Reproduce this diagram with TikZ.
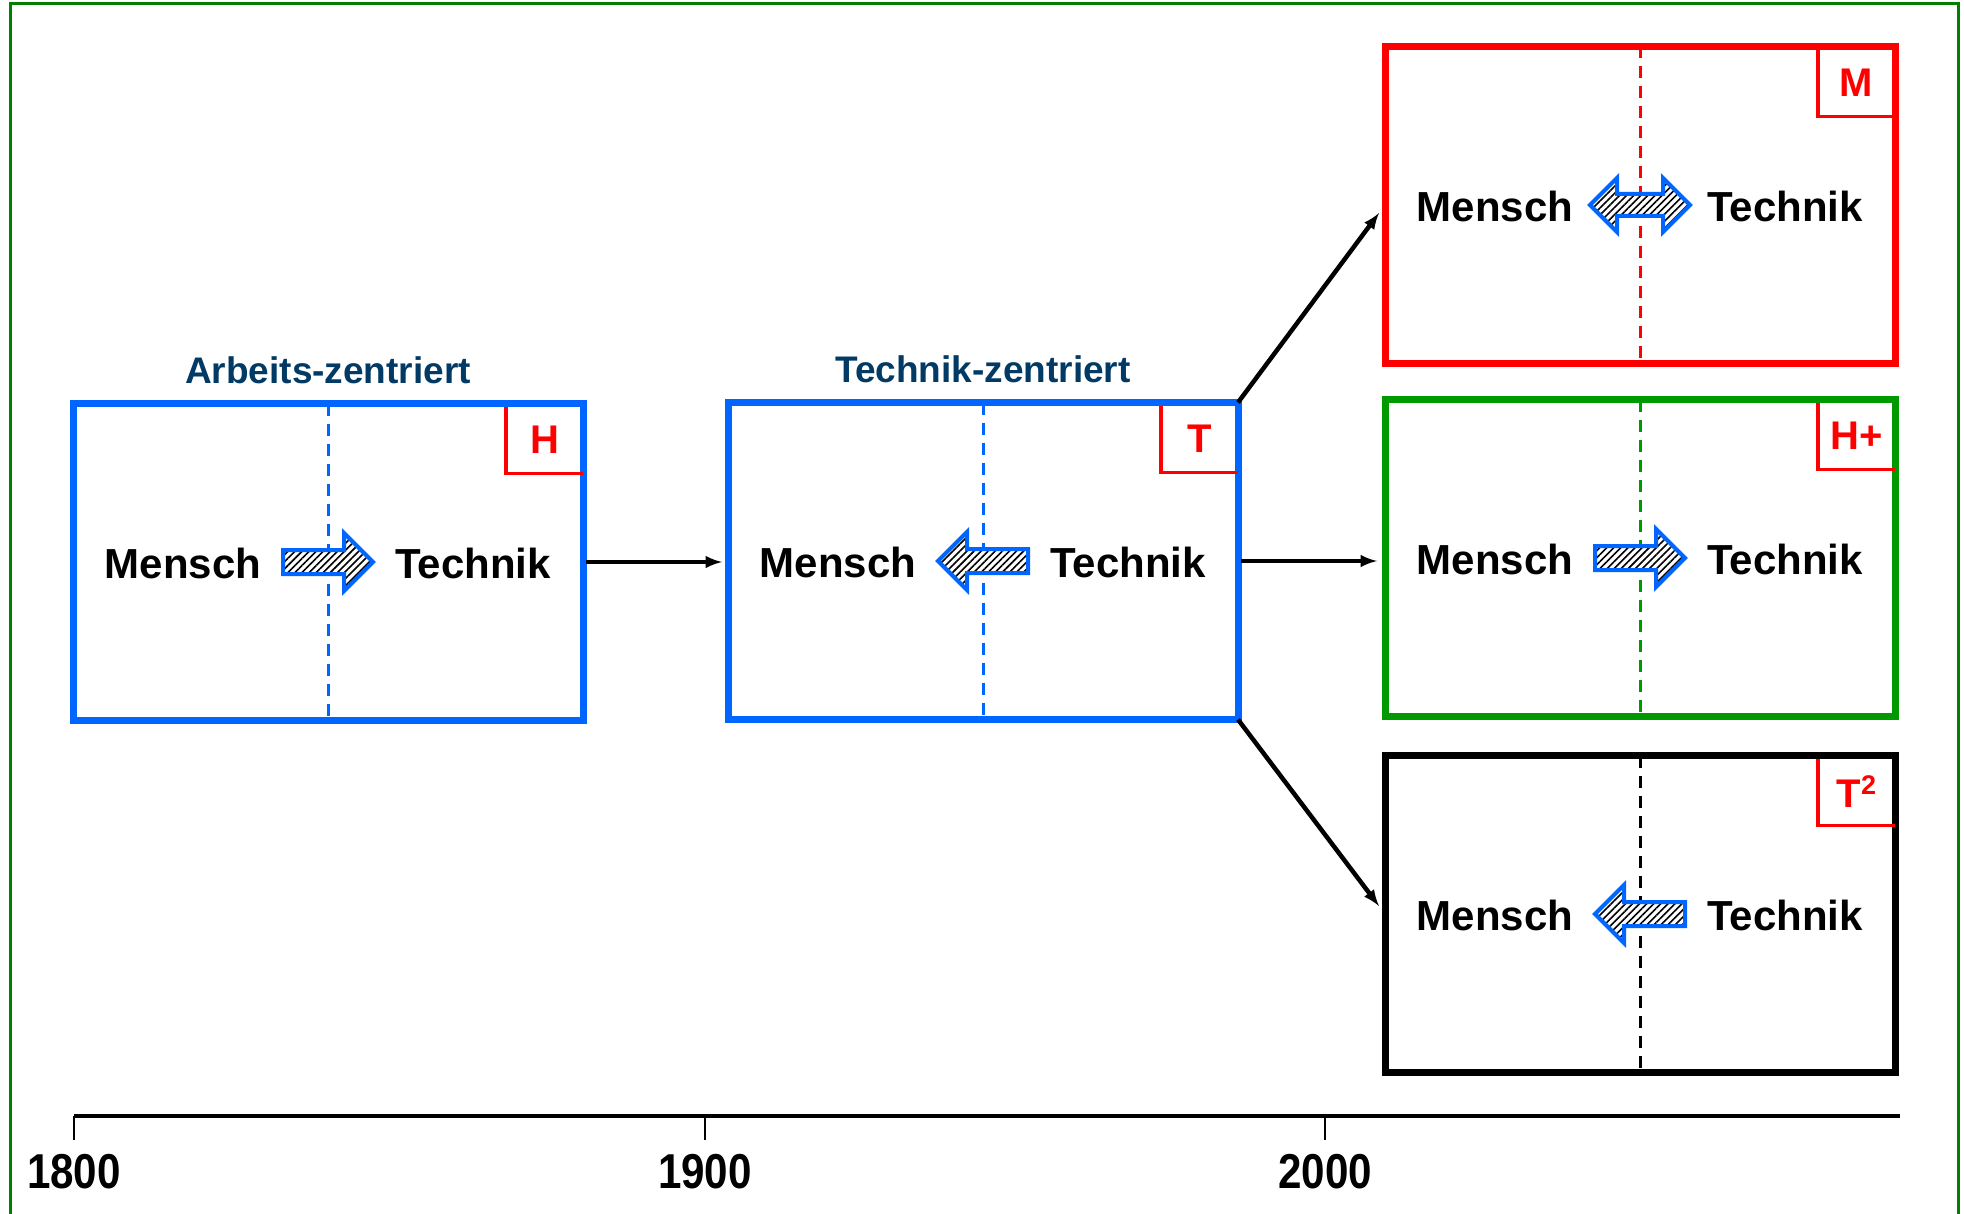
\documentclass[tikz,border=0pt]{standalone}
\usepackage{fontspec}
\setmainfont{Liberation Sans}
\usetikzlibrary{arrows,positioning,patterns.meta}
\definecolor{myblue}{RGB}{0,102,255}
\definecolor{mygreen}{RGB}{0,153,0}
\definecolor{framegreen}{RGB}{0,128,0}
\definecolor{titleblue}{RGB}{1,58,100}
\tikzstyle{epoch}=[draw,line width=7pt,minimum width=510pt,minimum height=317pt,inner sep=0pt,outer sep=0pt]
\tikzstyle{divline}=[line width=3pt,dash pattern=on 12pt off 8pt]
\tikzstyle{word}=[font=\fontsize{42}{48}\selectfont\bfseries,inner sep=0pt]
\tikzstyle{epochtitle}=[font=\fontsize{37}{44}\selectfont\bfseries,text=titleblue,inner sep=0pt]
\tikzstyle{cornertag}=[minimum width=77pt,minimum height=67pt,inner sep=0pt,outer sep=0pt,text=red,font=\fontsize{40}{46}\selectfont\bfseries]
\tikzstyle{cornerline}=[red,line width=3.5pt]
\tikzstyle{blockarrow}=[draw=myblue,line width=4pt,preaction={fill=white},pattern={Lines[angle=45,distance=5pt,line width=1.6pt]}]
\tikzstyle{myarrow}=[line width=4.5pt,>=latex,->]
\tikzstyle{yearlabel}=[font=\fontsize{49}{56}\selectfont\bfseries,xscale=0.86,inner sep=0pt]

\begin{document}
\begin{tikzpicture}[x=1pt,y=-1pt]
		\useasboundingbox (0,0) rectangle (1964,1214);
		\fill[white] (0,0) rectangle (1964,1214);
		\draw[framegreen,line width=3pt] (10,1230) -- (10,4) -- (1958,4) -- (1958,1230);

		% the five epochs
		\node[epoch,myblue] (h) at (328,562) {};
		\node[epoch,myblue] (t) at (983,561) {};
		\node[epoch,red] (m) at (1640,205) {};
		\node[epoch,mygreen] (hp) at (1640,558) {};
		\node[epoch,black] (tsq) at (1640,914) {};

		\foreach \b / \c in {h/myblue,t/myblue,m/red,hp/mygreen,tsq/black} {\draw[divline,\c] (\b.north) -- (\b.south);}

		\node[epochtitle,above=19pt of h] (harb) {Arbeits-zentriert};
		\node[epochtitle,above=19pt of t] (ttec) {Technik-zentriert};

		\foreach \b / \l in {h/H,t/T,m/M,hp/H+,tsq/T\raisebox{13pt}{\fontsize{27}{27}\selectfont 2}} {
			\node[cornertag,anchor=north east] (\b-tag) at ([yshift=-3pt]\b.north east) {\l};
			\draw[cornerline] (\b-tag.north west) -- (\b-tag.south west) -- (\b-tag.south east);
		}

		\foreach \b in {h,t,m,hp,tsq} {
			\node[word] (\b-mensch) at ([xshift=-145pt,yshift=-1pt]\b.center) {Mensch};
			\node[word] (\b-technik) at ([xshift=145pt,yshift=-1pt]\b.center) {Technik};
		}

		% block arrows, \d = direction
		\foreach \b / \d in {h/1,t/-1,hp/1,tsq/-1} {
			\draw[blockarrow,shift={(\b.center)}] ({-45*\d},-12) -- ({16*\d},-12) -- ({16*\d},-29) -- ({45*\d},0) -- ({16*\d},29) -- ({16*\d},12) -- ({-45*\d},12) -- cycle;
		}
		\draw[blockarrow,shift={(m.center)}] (-50,0) -- (-23,-27) -- (-23,-11) -- (23,-11) -- (23,-27) -- (50,0) -- (23,27) -- (23,11) -- (-23,11) -- (-23,27) -- cycle;

		\draw[myarrow,shorten <=3pt,shorten >=6pt] (h.east) -- (h.east -| t.west);
		\draw[myarrow,shorten >=10pt] (t.north east) -- (m.west);
		\draw[myarrow,shorten <=3pt,shorten >=8pt] (t.east) -- (t.east -| hp.west);
		\draw[myarrow,shorten >=10pt] (t.south east) -- (tsq.west);

		% time axis
		\coordinate (y1800) at (74,1116);
		\coordinate (y1900) at (705,1116);
		\coordinate (y2000) at (1325,1116);
		\coordinate (tend) at (1900,1116);
		\draw[line width=4pt] (y1800) -- (tend);
		\foreach \yr in {1800,1900,2000} {
			\draw[line width=2pt] (y\yr) -- ++(0,24);
			\node[yearlabel] (l\yr) at ([yshift=-56pt]y\yr) {\yr};
		}
	\end{tikzpicture}
\end{document}
